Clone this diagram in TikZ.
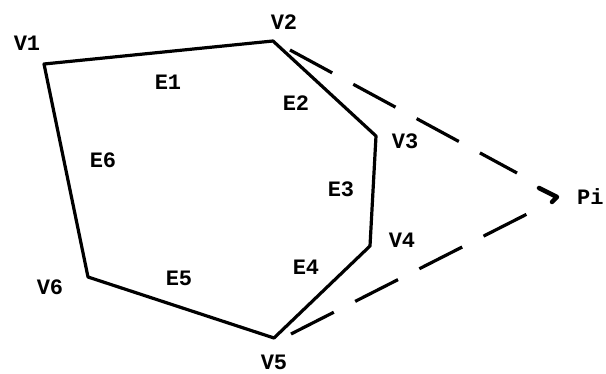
\documentclass[tikz,border=0pt]{standalone}
\usepackage{fontspec}
\setmonofont{Liberation Mono}
\usetikzlibrary{calc}
\begin{document}
\begin{tikzpicture}[x=1pt,y=-1pt,
  lbl/.style={font=\ttfamily\bfseries\fontsize{22}{22}\selectfont, inner sep=0pt},
  edge/.style={line width=3.2pt, line join=round, line cap=round},
  ray/.style={line width=3.2pt, dash pattern=on 48pt off 24pt}]
\useasboundingbox (0,0) rectangle (606,374);
\clip (0,0) rectangle (606,374);
\fill[white] (0,0) rectangle (606,374);
\coordinate (V1) at (44,64);
\coordinate (V2) at (273,41);
\coordinate (V3) at (376,136);
\coordinate (V4) at (370,246);
\coordinate (V5) at (274,338);
\coordinate (V6) at (88,277);
\coordinate (P) at (557,197);
\coordinate (A) at (290,50);
\coordinate (B) at (291,334);
\coordinate (Ae) at (517,173);
\coordinate (Be) at (535,210);
\draw[edge] (V1) -- (V2) -- (V3) -- (V4) -- (V5) -- (V6) -- cycle;
\draw[ray] (A) -- (Ae);
\draw[ray] (B) -- (Be);
\draw[line width=4.5pt, line join=round, line cap=round] ($(P)+(-18,-9)$) -- (P) -- ($(P)+(-5,5)$);
\node[lbl] (l1) at (27,43) {V1};
\node[lbl] (l2) at (284,22) {V2};
\node[lbl] (l3) at (405,141) {V3};
\node[lbl] (l4) at (402,240) {V4};
\node[lbl] (l5) at (274,362) {V5};
\node[lbl] (l6) at (50,287) {V6};
\node[lbl] (e1) at (168,82) {E1};
\node[lbl] (e2) at (296,103) {E2};
\node[lbl] (e3) at (341,189) {E3};
\node[lbl] (e4) at (306,267) {E4};
\node[lbl] (e5) at (179,278) {E5};
\node[lbl] (e6) at (103,160) {E6};
\node[lbl, anchor=base west] (pi) at (577,205) {Pi};
\end{tikzpicture}
\end{document}
